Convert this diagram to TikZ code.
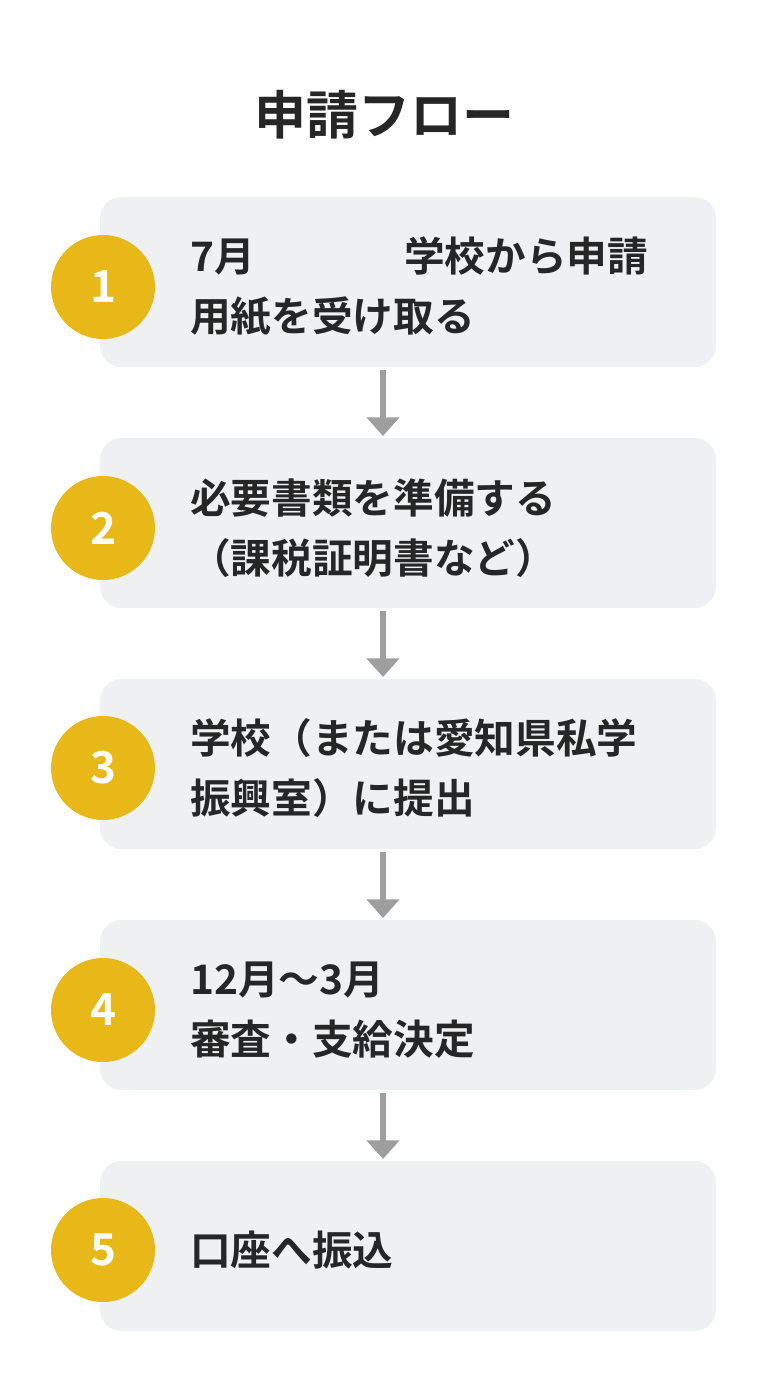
\documentclass[tikz,border=0pt]{standalone}
\usepackage{fontspec}
\setmainfont{Noto Sans CJK JP}[BoldFont={Noto Sans CJK JP Bold}]
\usetikzlibrary{arrows.meta}
\definecolor{boxgray}{HTML}{EEF0F2}
\definecolor{stepyellow}{HTML}{E8B818}
\definecolor{arrowgray}{HTML}{9E9E9E}
\begin{document}
\begin{tikzpicture}[x=0.75pt,y=-0.75pt,
  stepbox/.style={fill=boxgray,rounded corners=16pt},
  num node/.style={circle,fill=stepyellow,minimum size=78pt,inner sep=0pt,text=white,font=\bfseries\fontsize{33}{36}\selectfont},
  label node/.style={anchor=west,align=left,inner sep=0pt,font=\bfseries\fontsize{30.5}{45}\selectfont,text=black!85},
  flow arrow/.style={draw=arrowgray,line width=4pt,-{Triangle[length=14pt,width=24pt]}}]
  \fill[white] (0,0) rectangle (768,1376);
  \useasboundingbox (0,0) rectangle (768,1376);

  \node[font=\bfseries\fontsize{39}{42}\selectfont,text=black!85] (title) at (384,115) {申請フロー};

  \fill[stepbox] (100,197) rectangle (716,367);
  \fill[stepbox] (100,438) rectangle (716,608);
  \fill[stepbox] (100,679) rectangle (716,849);
  \fill[stepbox] (100,920) rectangle (716,1090);
  \fill[stepbox] (100,1161) rectangle (716,1331);

  \node[num node] (n1) at (103,287) {1};
  \node[num node] (n2) at (103,528) {2};
  \node[num node] (n3) at (103,768) {3};
  \node[num node] (n4) at (103,1010) {4};
  \node[num node] (n5) at (103,1250) {5};

  \node[label node] (t1) at (190,287) {7月\hspace{112pt}学校から申請\\用紙を受け取る};
  \node[label node] (t2) at (190,528) {必要書類を準備する\\（課税証明書など）};
  \node[label node] (t3) at (190,768) {学校（または愛知県私学\\振興室）に提出};
  \node[label node] (t4) at (190,1010) {12月〜3月\\審査・支給決定};
  \node[label node] (t5) at (190,1250) {口座へ振込};

  \coordinate (a1) at (383,370); \coordinate (b1) at (383,436);
  \coordinate (a2) at (383,611); \coordinate (b2) at (383,677);
  \coordinate (a3) at (383,852); \coordinate (b3) at (383,918);
  \coordinate (a4) at (383,1093); \coordinate (b4) at (383,1159);
  \draw[flow arrow] (a1) -- (b1);
  \draw[flow arrow] (a2) -- (b2);
  \draw[flow arrow] (a3) -- (b3);
  \draw[flow arrow] (a4) -- (b4);
\end{tikzpicture}
\end{document}
